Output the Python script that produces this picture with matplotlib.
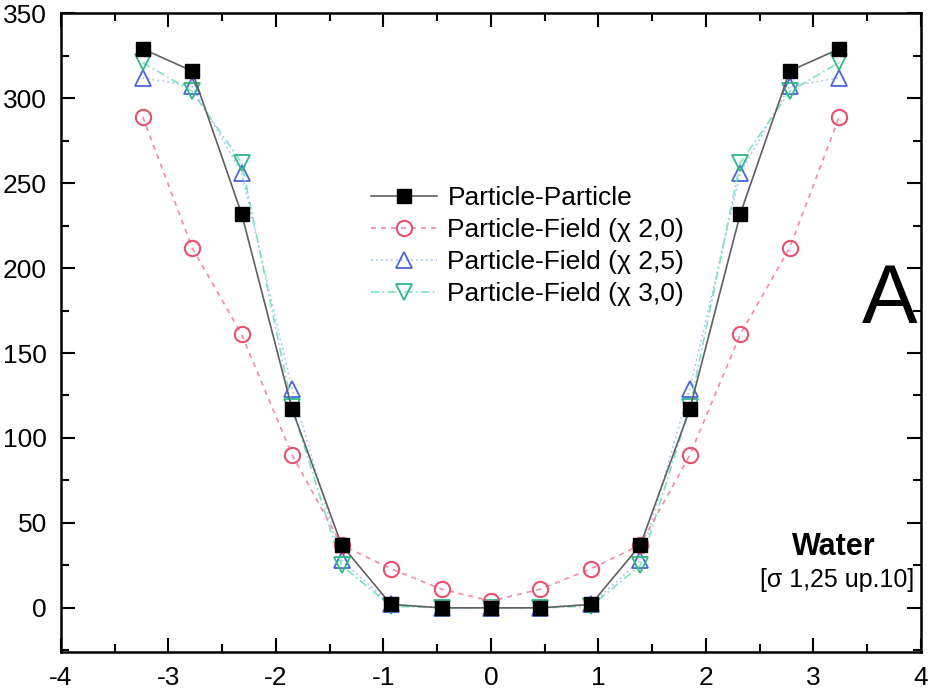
import numpy as np
import matplotlib
matplotlib.use("Agg")
import matplotlib.pyplot as plt
from matplotlib.ticker import MultipleLocator

plt.rcParams['font.family'] = ['Liberation Sans', 'DejaVu Sans']
plt.rcParams['axes.unicode_minus'] = False

# distance positions (symmetric around 0)
x_pos = [-3.24, -2.78, -2.32, -1.85, -1.39, -0.93, -0.46, 0.0,
         0.46, 0.93, 1.39, 1.85, 2.32, 2.78, 3.24]

particle_particle = [329, 316, 232, 117, 37, 2, 0, 0, 0, 2, 37, 117, 232, 316, 329]
pf_chi_20 = [289, 212, 161, 90, 37, 23, 11, 4, 11, 23, 37, 90, 161, 212, 289]
pf_chi_25 = [312, 307, 256, 129, 28, 2, 0, 0, 0, 2, 28, 129, 256, 307, 312]
pf_chi_30 = [321, 304, 262, 118, 25, 1, 0, 0, 0, 1, 25, 118, 262, 304, 321]

labels = ['Particle-Particle', 'Particle-Field (χ 2,0)',
          'Particle-Field (χ 2,5)', 'Particle-Field (χ 3,0)']

fig = plt.figure(figsize=(9.34, 6.96), dpi=100)
ax = fig.add_axes([0.0653, 0.0632, 0.9207, 0.9178])

ax.plot(x_pos, particle_particle, '-', color='#606060', lw=1.2,
        marker='s', ms=10, mfc='black', mec='black', label=labels[0], zorder=5)
ax.plot(x_pos, pf_chi_20, linestyle=(0, (3, 3)), color='#f58aa6', lw=1.2,
        marker='o', ms=11, mfc='none', mec='#e8506e', mew=1.5, label=labels[1], zorder=4)
ax.plot(x_pos, pf_chi_25, linestyle=(0, (1, 2)), color='#a8c0ee', lw=1.2,
        marker='^', ms=12, mfc='none', mec='#4a66d8', mew=1.3, label=labels[2], zorder=3)
ax.plot(x_pos, pf_chi_30, linestyle=(0, (5, 2, 1, 2)), color='#7fe0c8', lw=1.2,
        marker='v', ms=12, mfc='none', mec='#2eb888', mew=1.3, label=labels[3], zorder=3)

ax.set_xlim(-4, 4)
ax.set_ylim(-26, 350)
ax.xaxis.set_major_locator(MultipleLocator(1))
ax.xaxis.set_minor_locator(MultipleLocator(0.5))
ax.yaxis.set_major_locator(MultipleLocator(50))
ax.yaxis.set_minor_locator(MultipleLocator(25))
ax.tick_params(which='both', direction='in', top=True, right=True, width=1.5)
ax.tick_params(which='major', length=10, labelsize=19, pad=10)
ax.tick_params(which='minor', length=6)
for s in ax.spines.values():
    s.set_linewidth(1.8)

leg = ax.legend(loc='upper left', bbox_to_anchor=(0.345, 0.75), frameon=False,
                fontsize=19, handlelength=2.5, labelspacing=0.3, handletextpad=0.4,
                borderpad=0)

ax.text(0.964, 0.55, 'A', transform=ax.transAxes, fontsize=60, ha='center', va='center')
ax.text(0.947, 0.164, 'Water', transform=ax.transAxes, fontsize=22, fontweight='bold',
        ha='right', va='center')
ax.text(0.992, 0.113, '[σ 1,25 up.10]', transform=ax.transAxes, fontsize=18,
        ha='right', va='center')

fig.savefig('out.png', dpi=100)
